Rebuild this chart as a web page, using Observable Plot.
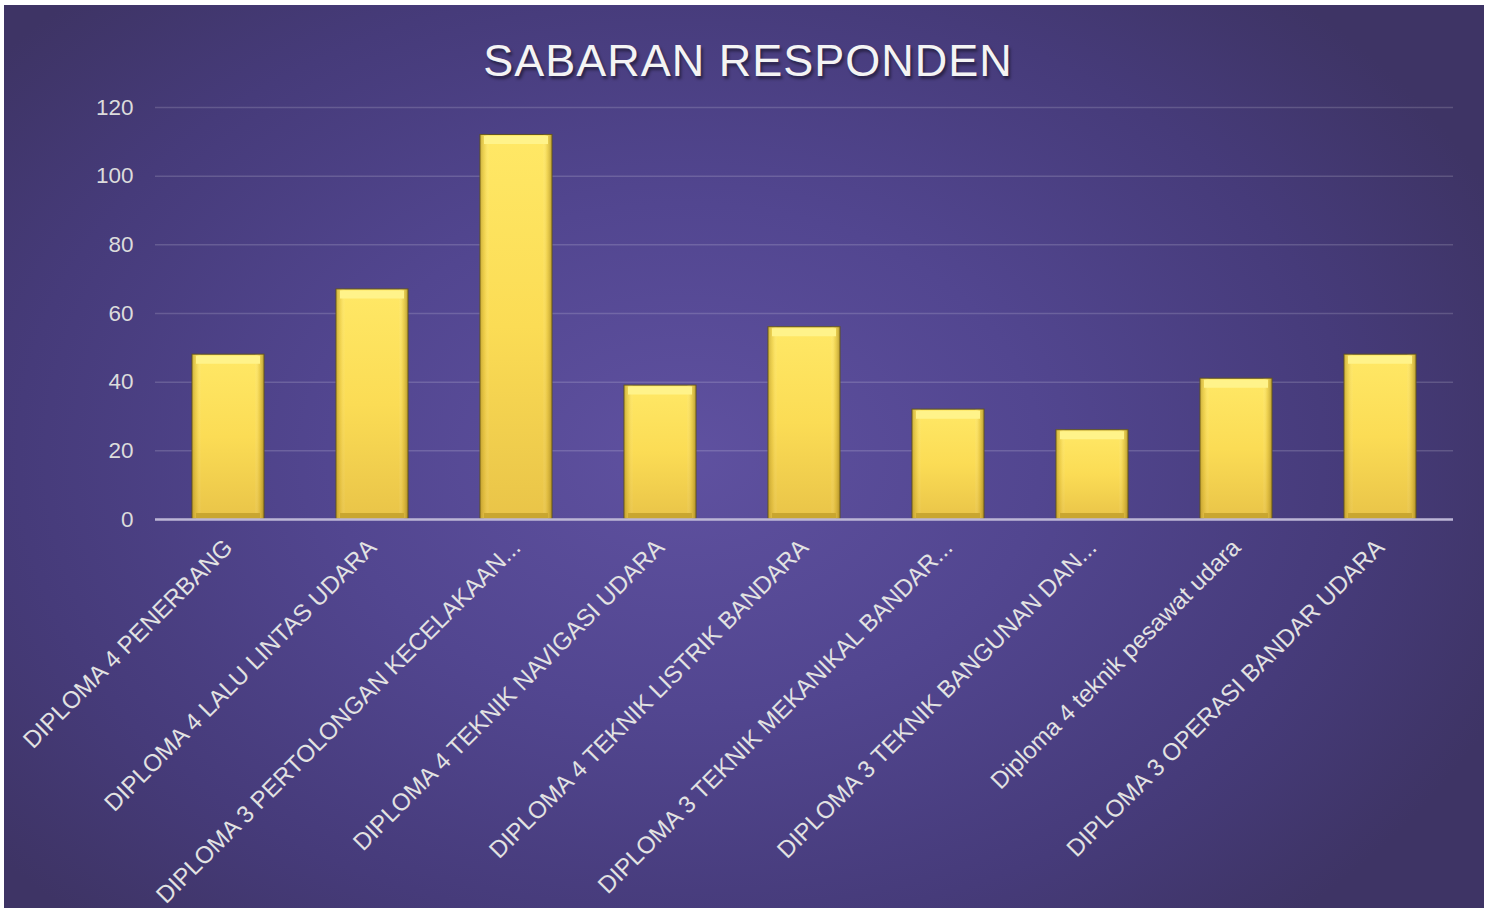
<!DOCTYPE html>
<html>
<head>
<meta charset="utf-8">
<script src="https://cdn.jsdelivr.net/npm/d3@7"></script>
<script src="https://cdn.jsdelivr.net/npm/@observablehq/plot@0.6"></script>
<style>
  html, body { margin: 0; padding: 0; background: #ffffff; width: 1492px; height: 910px; overflow: hidden; }
  #bg {
    position: absolute; left: 4px; top: 5px; width: 1480px; height: 903px;
    background: radial-gradient(ellipse 60% 70% at 46% 50%, #5f51a0 0%, #524690 40%, #463b7a 75%, #3e3465 100%);
  }
  #title {
    position: absolute; left: 0; top: 35px; width: 1496px; text-align: center;
    font-family: "Liberation Sans", Arial, sans-serif; font-weight: normal; font-size: 45px;
    letter-spacing: 1px; color: #f4f4f4; text-shadow: 2px 3px 3px rgba(0,0,0,0.45);
  }
  #chart { position: absolute; left: 0; top: 0; }
</style>
</head>
<body>
<div id="bg"></div>
<div id="title">SABARAN RESPONDEN</div>
<div id="chart"></div>
<script>
const categories = [
  "DIPLOMA 4 PENERBANG",
  "DIPLOMA 4 LALU LINTAS UDARA",
  "DIPLOMA 3 PERTOLONGAN KECELAKAAN...",
  "DIPLOMA 4 TEKNIK NAVIGASI UDARA",
  "DIPLOMA 4 TEKNIK LISTRIK BANDARA",
  "DIPLOMA 3 TEKNIK MEKANIKAL BANDAR...",
  "DIPLOMA 3 TEKNIK BANGUNAN DAN...",
  "Diploma 4 teknik pesawat udara",
  "DIPLOMA 3 OPERASI BANDAR UDARA"
];
const values = [48, 67, 112, 39, 56, 32, 26, 41, 48];
const yTicks = [0, 20, 40, 60, 80, 100, 120];

const data = categories.map((c, i) => ({category: c, value: values[i]}));
const zero = [0];

const chart = Plot.plot({
  width: 1492,
  height: 910,
  marginLeft: 155,
  marginRight: 39,
  marginTop: 107,
  marginBottom: 391,
  style: {background: "transparent", fontFamily: "'Liberation Sans', Arial, sans-serif", overflow: "visible"},
  x: {domain: categories, paddingInner: 0.5, paddingOuter: 0.25, label: null},
  y: {domain: [0, 120], label: null},
  marks: [
    Plot.gridY(yTicks, {stroke: "#ffffff", strokeOpacity: 0.16, strokeWidth: 1.5}),
    Plot.axisY(yTicks, {tickSize: 0, tickPadding: 22, fill: "#dcdcdc", fontSize: 22.5, label: null}),
    Plot.axisX({tickSize: 0, tickPadding: 24, tickRotate: -45, fill: "#e2e2e2", fontSize: 24, label: null}),
    Plot.barY(data, {x: "category", y: "value", fill: "url(#barGrad)", stroke: "#5e5220", strokeWidth: 1}),
    Plot.barY(data, {x: "category", y: "value", fill: "url(#barSide)"}),
    Plot.tickY(data, {x: "category", y: "value", stroke: "#fff38a", strokeWidth: 8, dy: 5, inset: 4}),
    Plot.tickY(data, {x: "category", y: zero[0], stroke: "#c9a630", strokeWidth: 6, dy: -3.5, inset: 4}),
    Plot.ruleY(zero, {stroke: "#bcb6d6", strokeWidth: 2.5})
  ]
});

const ns = "http://www.w3.org/2000/svg";
const defs = document.createElementNS(ns, "defs");
defs.innerHTML = `
  <linearGradient id="barGrad" x1="0" y1="0" x2="0" y2="1">
    <stop offset="0" stop-color="#ffe866"/>
    <stop offset="0.5" stop-color="#fbdc55"/>
    <stop offset="1" stop-color="#e9c448"/>
  </linearGradient>
  <linearGradient id="barSide" x1="0" y1="0" x2="1" y2="0">
    <stop offset="0" stop-color="#8a6d10" stop-opacity="0.45"/>
    <stop offset="0.07" stop-color="#c9a52a" stop-opacity="0.2"/>
    <stop offset="0.13" stop-color="#ffffff" stop-opacity="0"/>
    <stop offset="0.87" stop-color="#ffffff" stop-opacity="0"/>
    <stop offset="0.93" stop-color="#c9a52a" stop-opacity="0.25"/>
    <stop offset="1" stop-color="#7a5f0c" stop-opacity="0.55"/>
  </linearGradient>`;
chart.insertBefore(defs, chart.firstChild);
document.getElementById("chart").appendChild(chart);
</script>
</body>
</html>
